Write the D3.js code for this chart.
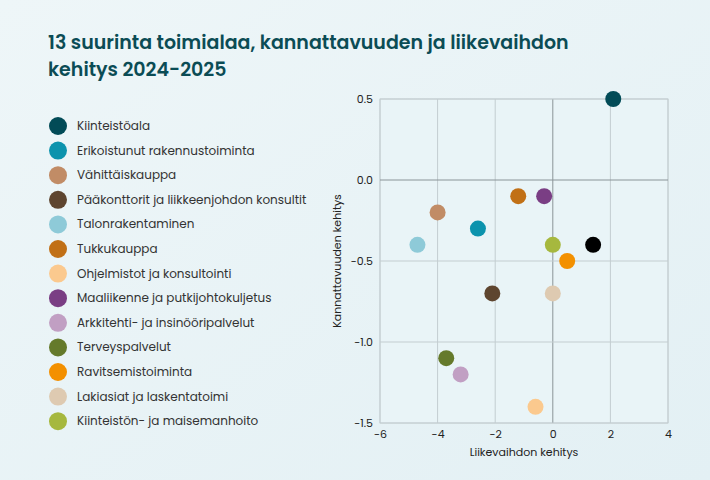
<!DOCTYPE html>
<html><head><meta charset="utf-8">
<script src="https://cdn.jsdelivr.net/npm/d3@7"></script>
<style>
body{margin:0;font-family:Poppins,"Open Sans",sans-serif;}
</style></head>
<body><div id="chart"></div>
<script>
// Data
const names = ['Kiinteistöala','Erikoistunut rakennustoiminta','Vähittäiskauppa','Pääkonttorit ja liikkeenjohdon konsultit','Talonrakentaminen','Tukkukauppa','Ohjelmistot ja konsultointi','Maaliikenne ja putkijohtokuljetus','Arkkitehti- ja insinööripalvelut','Terveyspalvelut','Ravitsemistoiminta','Lakiasiat ja laskentatoimi','Kiinteistön- ja maisemanhoito'];
const colors = ['#024b57','#0c93ad','#c18c66','#5e452f','#8ecad8','#c17016','#fbc98e','#7a3e84','#c19fc3','#657a2b','#f39000','#decab1','#a6b83e'];
const liikevaihto = [2.1,-2.6,-4.0,-2.1,-4.7,-1.2,-0.6,-0.3,-3.2,-3.7,0.5,0.0,0.0];
const kannattavuus = [0.5,-0.3,-0.2,-0.7,-0.4,-0.1,-1.4,-0.1,-1.2,-1.1,-0.5,-0.7,-0.4];
// extra point without legend entry
const extraX = [1.4], extraY = [-0.4];
const xTicks = [-6,-4,-2,0,2,4];
const yTicks = [0.5,0,-0.5,-1,-1.5];

const width = 710, height = 480;
const svg = d3.select('#chart').append('svg').attr('width',width).attr('height',height);

const grad = svg.append('defs').append('linearGradient').attr('id','bg')
    .attr('x1','0').attr('y1','0').attr('x2','1').attr('y2','1');
grad.append('stop').attr('offset','0').attr('stop-color','#eef6f8');
grad.append('stop').attr('offset','1').attr('stop-color','#e3f0f4');
svg.append('rect').attr('width',width).attr('height',height).attr('fill','url(#bg)');

// Title
svg.append('text').attr('x',48).attr('y',49).attr('fill','#0b4c55')
    .style('font-size','19px').style('font-weight','600').text('13 suurinta toimialaa, kannattavuuden ja liikevaihdon');
svg.append('text').attr('x',48).attr('y',76).attr('fill','#0b4c55')
    .style('font-size','19px').style('font-weight','600').text('kehitys 2024-2025');

// Legend
const legend = svg.append('g');
names.forEach((n,i)=>{
    const y = 126 + i*24.6;
    legend.append('circle').attr('cx',58).attr('cy',y).attr('r',9).attr('fill',colors[i]);
    legend.append('text').attr('x',77).attr('y',y+4).attr('fill','#333')
        .style('font-size','12px').text(n);
});

// Scales
const scaleX = d3.scaleLinear().domain([-6,4]).range([380,668]);
const scaleY = d3.scaleLinear().domain([-1.5,0.5]).range([423,99]);

svg.append('rect').attr('x',380).attr('y',99).attr('width',288).attr('height',324)
    .attr('fill','#e9f4f7').attr('stroke','#c8d2d6');

svg.selectAll('.gx').data(xTicks).enter().append('line')
    .attr('x1',d=>scaleX(d)).attr('x2',d=>scaleX(d)).attr('y1',99).attr('y2',423)
    .attr('stroke',d=>d===0?'#8a9498':'#c3cdd0').attr('stroke-width',1);
svg.selectAll('.gy').data(yTicks).enter().append('line')
    .attr('y1',d=>scaleY(d)).attr('y2',d=>scaleY(d)).attr('x1',380).attr('x2',668)
    .attr('stroke',d=>d===0?'#8a9498':'#c3cdd0').attr('stroke-width',1);

const xAxis = d3.axisBottom(scaleX).tickValues(xTicks).tickSize(0).tickPadding(7).tickFormat(d3.format('d'));
const yAxis = d3.axisLeft(scaleY).tickValues(yTicks).tickSize(0).tickPadding(7).tickFormat(d3.format('.1f'));
const xg = svg.append('g').attr('transform','translate(0,423)').call(xAxis);
const yg = svg.append('g').attr('transform','translate(380,0)').call(yAxis);
[xg,yg].forEach(g=>{
    g.select('.domain').remove();
    g.selectAll('text').style('font-size','11px').style('font-family','Poppins,"Open Sans",sans-serif').attr('fill','#222');
});
yg.selectAll('text').text(d=>d3.format('.1f')(d).replace('−','-'));
xg.selectAll('text').text(d=>String(d));

svg.append('text').attr('x',524).attr('y',456).style('text-anchor','middle')
    .style('font-size','11px').attr('fill','#222').text('Liikevaihdon kehitys');
svg.append('text').attr('transform','translate(341,261) rotate(-90)').style('text-anchor','middle')
    .style('font-size','11px').attr('fill','#222').text('Kannattavuuden kehitys');

// Points
svg.selectAll('.dot').data(names).enter().append('circle')
    .attr('cx',(d,i)=>scaleX(liikevaihto[i])).attr('cy',(d,i)=>scaleY(kannattavuus[i]))
    .attr('r',8).attr('fill',(d,i)=>colors[i]);
svg.selectAll('.extra').data(extraX).enter().append('circle')
    .attr('cx',(d)=>scaleX(d)).attr('cy',(d,i)=>scaleY(extraY[i]))
    .attr('r',8).attr('fill','#000');
</script></body></html>
